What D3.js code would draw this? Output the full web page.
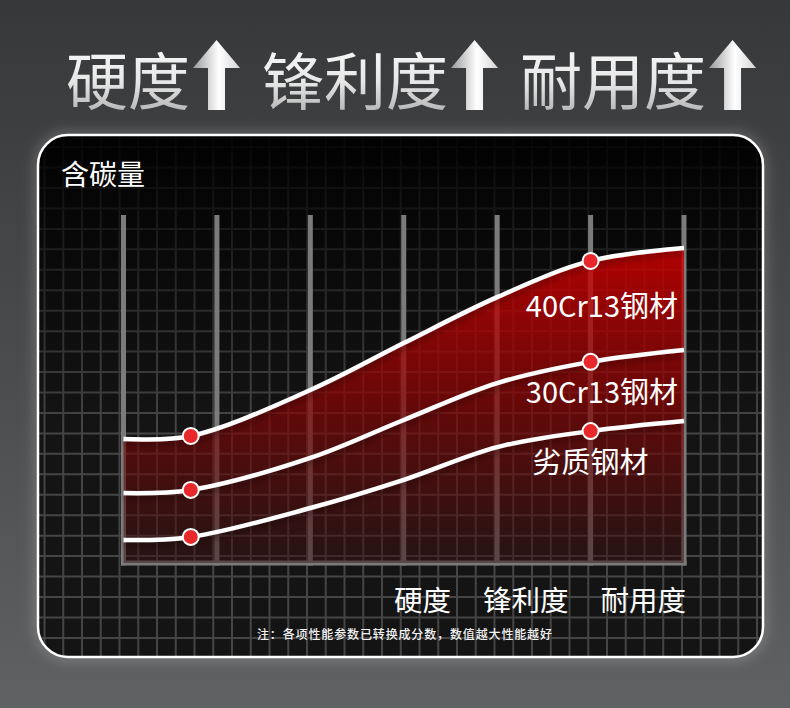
<!DOCTYPE html>
<html>
<head>
<meta charset="utf-8">
<script src="https://cdn.jsdelivr.net/npm/d3@7"></script>
<style>
  html, body { margin: 0; padding: 0; background: #3b3c3e; }
  svg { display: block; font-family: "Noto Sans CJK SC", "Noto Sans", sans-serif; }
</style>
</head>
<body>
<svg id="chart" width="790" height="708"></svg>
<script>
// data
const titleWords = ['硬度', '锋利度', '耐用度'];
const axisLabels = ['硬度', '锋利度', '耐用度'];
const yTitle = '含碳量';
const note = '注：各项性能参数已转换成分数，数值越大性能越好';
const steels = ['40Cr13钢材', '30Cr13钢材', '劣质钢材'];
const knots = [0, 0.72, 2, 3, 4, 5, 6];
const steel40 = [35.6, 36.5, 49.7, 63.2, 76.4, 86.8, 90.5];
const steel30 = [20.1, 21.0, 30.2, 41.1, 51.7, 57.8, 61.2];
const steelLow = [6.6, 7.5, 15.8, 23.9, 33.3, 37.9, 40.8];
const markerKnots = [0.72, 5];
const barTicks = [0, 1, 2, 3, 4, 5, 6];

const series = [steel40, steel30, steelLow].map((vals, i) => ({
  name: steels[i],
  points: vals.map((v, j) => ({ k: knots[j], v }))
}));

const svg = d3.select('#chart');
const defs = svg.append('defs');

// ----- gradients / filters -----
const bg = defs.append('linearGradient').attr('id', 'bg')
  .attr('x1', 0).attr('y1', 0).attr('x2', 0).attr('y2', 1);
bg.append('stop').attr('offset', 0).attr('stop-color', '#37383a');
bg.append('stop').attr('offset', 0.5).attr('stop-color', '#4a4b4d');
bg.append('stop').attr('offset', 1).attr('stop-color', '#606163');

const silver = defs.append('linearGradient').attr('id', 'silver')
  .attr('x1', 0).attr('y1', 0).attr('x2', 0).attr('y2', 1);
silver.append('stop').attr('offset', 0).attr('stop-color', '#ffffff');
silver.append('stop').attr('offset', 0.55).attr('stop-color', '#e6e6e6');
silver.append('stop').attr('offset', 1).attr('stop-color', '#a4a4a4');

const arrowGrad = defs.append('linearGradient').attr('id', 'arrowGrad')
  .attr('x1', 0).attr('y1', 0).attr('x2', 1).attr('y2', 0);
arrowGrad.append('stop').attr('offset', 0).attr('stop-color', '#9a9a9a');
arrowGrad.append('stop').attr('offset', 0.55).attr('stop-color', '#ffffff');
arrowGrad.append('stop').attr('offset', 1).attr('stop-color', '#d4d4d4');

const shade = defs.append('linearGradient').attr('id', 'shade')
  .attr('gradientUnits', 'userSpaceOnUse')
  .attr('x1', 0).attr('y1', 135).attr('x2', 0).attr('y2', 430);
shade.append('stop').attr('offset', 0).attr('stop-color', '#000').attr('stop-opacity', 0.93);
shade.append('stop').attr('offset', 0.35).attr('stop-color', '#000').attr('stop-opacity', 0.6);
shade.append('stop').attr('offset', 1).attr('stop-color', '#000').attr('stop-opacity', 0);

const redFill = defs.append('linearGradient').attr('id', 'redFill')
  .attr('gradientUnits', 'userSpaceOnUse')
  .attr('x1', 0).attr('y1', 246).attr('x2', 0).attr('y2', 563);
redFill.append('stop').attr('offset', 0).attr('stop-color', 'rgb(215,0,0)').attr('stop-opacity', 0.82);
redFill.append('stop').attr('offset', 0.5).attr('stop-color', 'rgb(135,4,4)').attr('stop-opacity', 0.72);
redFill.append('stop').attr('offset', 1).attr('stop-color', 'rgb(55,18,18)').attr('stop-opacity', 0.5);

const glow = defs.append('filter').attr('id', 'glow')
  .attr('x', -0.1).attr('y', -0.1).attr('width', 1.2).attr('height', 1.2);
glow.append('feGaussianBlur').attr('stdDeviation', 6);

const lineShadow = defs.append('filter').attr('id', 'lineShadow')
  .attr('x', -0.05).attr('y', -0.2).attr('width', 1.1).attr('height', 1.5);
lineShadow.append('feDropShadow').attr('dx', 0).attr('dy', 4)
  .attr('stdDeviation', 3).attr('flood-color', '#000').attr('flood-opacity', 0.35);

const panel = { x: 38, y: 135, w: 725, h: 522, r: 30 };
defs.append('clipPath').attr('id', 'panelClip')
  .append('rect')
  .attr('x', panel.x).attr('y', panel.y).attr('width', panel.w).attr('height', panel.h)
  .attr('rx', panel.r);

// ----- page background -----
svg.append('rect').attr('width', 790).attr('height', 708).attr('fill', 'url(#bg)');

// ----- title -----
const title = svg.append('g').attr('class', 'title');
let tx = 66;
titleWords.forEach(word => {
  const t = title.append('text')
    .attr('x', tx).attr('y', 105)
    .attr('font-size', 62)
    .attr('fill', 'url(#silver)')
    .text(word);
  const w = t.node().getComputedTextLength();
  const ax = tx + w + 3;
  title.append('path')
    .attr('d', `M${ax},68 L${ax + 23.5},40 L${ax + 47},68 L${ax + 32},68 L${ax + 32},110 L${ax + 15},110 L${ax + 15},68 Z`)
    .attr('fill', 'url(#arrowGrad)');
  tx = ax + 47 + 22;
});

// ----- panel -----
svg.append('rect')
  .attr('x', panel.x).attr('y', panel.y).attr('width', panel.w).attr('height', panel.h)
  .attr('rx', panel.r)
  .attr('fill', 'none').attr('stroke', 'rgba(255,255,255,0.22)').attr('stroke-width', 8)
  .attr('filter', 'url(#glow)');

svg.append('rect')
  .attr('x', panel.x).attr('y', panel.y).attr('width', panel.w).attr('height', panel.h)
  .attr('rx', panel.r).attr('fill', '#141414');

const inner = svg.append('g').attr('clip-path', 'url(#panelClip)');

// fine background grid
const gridX = d3.range(0, 39).map(k => 44.5 + 18.75 * k);
const gridY = d3.range(-2, 24).map(k => 188 + 20.45 * k);
inner.append('g').selectAll('line').data(gridX).join('line')
  .attr('x1', d => d).attr('x2', d => d)
  .attr('y1', panel.y).attr('y2', panel.y + panel.h)
  .attr('stroke', '#454545').attr('stroke-width', 2);
inner.append('g').selectAll('line').data(gridY).join('line')
  .attr('y1', d => d).attr('y2', d => d)
  .attr('x1', panel.x).attr('x2', panel.x + panel.w)
  .attr('stroke', '#454545').attr('stroke-width', 2);

inner.append('rect')
  .attr('x', panel.x).attr('y', panel.y).attr('width', panel.w).attr('height', panel.h)
  .attr('fill', 'url(#shade)');

// ----- scales -----
const x = d3.scaleLinear().domain([0, 6]).range([123.5, 684]);
const y = d3.scaleLinear().domain([0, 100]).range([563, 215]);

// main bars
const plot = svg.append('g');
plot.append('g').selectAll('line').data(barTicks).join('line')
  .attr('x1', d => x(d)).attr('x2', d => x(d))
  .attr('y1', y(100)).attr('y2', y(0) + 2.5)
  .attr('stroke', '#7b7b7b').attr('stroke-width', 5);
plot.append('line')
  .attr('x1', x(0) - 2.5).attr('x2', x(6) + 2.5)
  .attr('y1', y(0)).attr('y2', y(0))
  .attr('stroke', '#7b7b7b').attr('stroke-width', 5);

// red area under the top curve
const curve = d3.curveCatmullRom.alpha(0.5);
const area = d3.area()
  .x(d => x(d.k)).y0(y(0)).y1(d => y(d.v))
  .curve(curve);
plot.append('path')
  .datum(series[0].points)
  .attr('d', area)
  .attr('fill', 'url(#redFill)');

// curves
const line = d3.line()
  .x(d => x(d.k)).y(d => y(d.v))
  .curve(curve);
plot.append('g').selectAll('path').data(series).join('path')
  .attr('d', d => line(d.points))
  .attr('fill', 'none').attr('stroke', '#fff').attr('stroke-width', 4.5)
  .attr('filter', 'url(#lineShadow)');

// markers
const markers = series.flatMap(s => s.points.filter(p => markerKnots.includes(p.k)));
plot.append('g').selectAll('circle').data(markers).join('circle')
  .attr('cx', d => x(d.k)).attr('cy', d => y(d.v))
  .attr('r', 8)
  .attr('fill', '#e8282b').attr('stroke', '#fff').attr('stroke-width', 2);

// series labels
const labelDy = [56, 41, 42];
series.forEach((s, i) => {
  const p = s.points.find(q => q.k === 5);
  const isLast = i === series.length - 1;
  plot.append('text')
    .attr('x', isLast ? x(5) : x(6) - 6)
    .attr('y', y(p.v) + labelDy[i])
    .attr('text-anchor', isLast ? 'middle' : 'end')
    .attr('font-size', 29)
    .attr('fill', '#fff')
    .text(s.name);
});

// y title
svg.append('text')
  .attr('x', 61).attr('y', 185)
  .attr('font-size', 28).attr('fill', '#fff')
  .text(yTitle);

// x labels
const xl = svg.append('text')
  .attr('x', x(6) + 2).attr('y', 611)
  .attr('text-anchor', 'end')
  .attr('font-size', 28.5).attr('fill', '#fff');
xl.selectAll('tspan').data(axisLabels).join('tspan')
  .attr('dx', (d, i) => i ? 32 : 0)
  .text(d => d);

// note
svg.append('text')
  .attr('x', 257).attr('y', 639)
  .attr('font-size', 12).attr('font-weight', 500)
  .attr('fill', '#f2f2f2')
  .attr('textLength', 295).attr('lengthAdjust', 'spacing')
  .text(note);

// panel border
svg.append('rect')
  .attr('x', panel.x).attr('y', panel.y).attr('width', panel.w).attr('height', panel.h)
  .attr('rx', panel.r)
  .attr('fill', 'none').attr('stroke', '#fff').attr('stroke-width', 2.5);
</script>
</body>
</html>
